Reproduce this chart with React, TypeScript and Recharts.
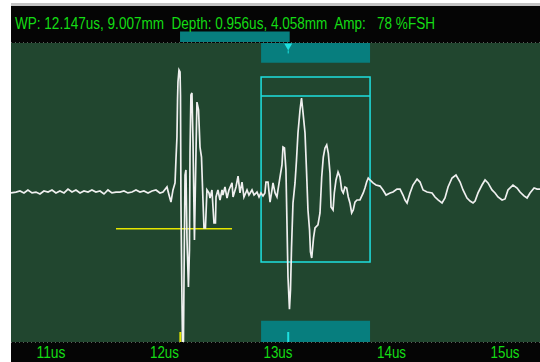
import React from 'react';
import { LineChart, Line, XAxis, YAxis, CartesianGrid, ReferenceArea, ReferenceLine, ReferenceDot } from 'recharts';

// time base in us, amplitude in %FSH (RF display, +-100)
const X_DOMAIN = [10.648, 15.308];
const Y_DOMAIN = [-100, 100];
const X_TICKS = [11, 12, 13, 14, 15];
const Y_TICKS = [-100, -50, 0, 50, 100];

const HEADER = 'WP: 12.147us, 9.007mm  Depth: 0.956us, 4.058mm  Amp:   78 %FSH';

// [time us, amplitude %]
const NOISE_LEFT = [
  [10.648, -0.3], [10.692, 0.3], [10.727, 1.0], [10.762, -0.3], [10.797, 1.7], [10.833, -0.3],
  [10.868, 0.3], [10.903, -1.0], [10.938, 1.0], [10.974, 0.3], [11.009, 1.7], [11.044, -0.3],
  [11.079, 1.0], [11.115, -0.3], [11.15, 2.3], [11.185, 0.3], [11.22, 1.7], [11.256, -0.3],
  [11.291, 1.0], [11.326, 0.3], [11.361, 1.7], [11.396, 0.3], [11.432, 1.0], [11.467, -1.0],
  [11.502, 1.7], [11.537, -0.3], [11.573, 0.3], [11.608, 0.3], [11.643, 1.0], [11.678, -0.3],
  [11.714, 0.3], [11.749, 1.7], [11.784, 0.3], [11.819, 1.0], [11.855, -0.3], [11.89, 1.0],
  [11.925, 1.7], [11.96, -0.3], [11.987, 0.3],
];

const MAIN_ECHO = [
  [12.022, 3.7], [12.04, -1.7], [12.057, -6.4], [12.075, 1.7], [12.093, 6.4], [12.101, 21.7],
  [12.11, 37.1], [12.115, 61.9], [12.119, 73.9], [12.128, 81.9], [12.137, 80.6], [12.141, 65.2],
  [12.145, -5.0], [12.154, -71.9], [12.159, -100], [12.167, -100], [12.172, -58.5], [12.181, 11.7],
  [12.189, 15.1], [12.198, -30.4], [12.211, -63.2], [12.22, -38.5], [12.225, 26.4], [12.233, 65.2],
  [12.242, 66.6], [12.251, 35.1], [12.264, -31.8], [12.278, 28.4], [12.286, 60.5], [12.3, 55.2],
  [12.313, 30.4], [12.326, 23.7], [12.339, -5.0], [12.348, -23.7], [12.361, -23.7], [12.374, 1.7],
  [12.392, -0.3], [12.401, -3.7], [12.418, 1.7], [12.436, -20.4], [12.449, -20.4], [12.454, -3.0],
  [12.471, 1.7], [12.489, -5.0], [12.507, 1.7], [12.515, -1.7], [12.533, 3.7], [12.551, -3.7],
  [12.568, 1.7], [12.595, 6.4], [12.604, -3.0], [12.63, 3.7], [12.648, 11.0], [12.665, -0.3],
  [12.683, 7.0], [12.7, -3.0], [12.727, 1.7], [12.744, -1.7], [12.771, 1.7], [12.789, -1.7],
  [12.815, 0.3], [12.833, -3.0], [12.85, -0.3], [12.868, -2.3], [12.885, -0.3], [12.894, 7.0],
  [12.912, 7.0], [12.93, -6.4], [12.947, 1.7], [12.956, 6.4], [12.974, -0.3], [12.991, -3.0],
];

const GATE_ECHO = [
  [13.0, 1.7], [13.018, 10.4], [13.035, 18.4], [13.044, 30.4], [13.057, 29.8], [13.07, 15.1],
  [13.079, -20.4], [13.088, -56.5], [13.101, -78.0], [13.11, -65.2], [13.119, -37.1], [13.132, -7.0],
  [13.15, 6.4], [13.163, 21.7], [13.176, 39.8], [13.194, 55.2], [13.207, 63.2], [13.22, 53.8],
  [13.238, 39.8], [13.251, 15.1], [13.264, -11.7], [13.278, -25.1], [13.286, -39.8], [13.297, -43.8],
  [13.313, -30.4], [13.326, -23.7], [13.352, -21.7], [13.37, -13.7], [13.385, 10.4], [13.399, 23.7],
  [13.414, 29.8], [13.429, 31.8], [13.443, 26.4], [13.458, 13.0], [13.467, -9.7], [13.485, -11.7],
  [13.496, -0.3], [13.511, 8.4], [13.529, 13.7], [13.546, 10.4], [13.561, 1.7], [13.575, -0.3],
  [13.59, 3.7], [13.605, 3.0], [13.619, -3.0], [13.634, -7.0], [13.649, -13.7], [13.663, -11.7],
  [13.678, -6.4], [13.696, -5.0], [13.722, -5.0], [13.751, -0.3], [13.766, 3.0], [13.781, 7.0],
  [13.795, 9.7], [13.81, 8.4], [13.837, 6.4], [13.863, 5.0], [13.899, 4.3], [13.925, 1.7],
  [13.952, -1.7], [13.987, -0.3],
];

const TAIL = [
  [14.013, 0.3], [14.048, 2.3], [14.075, 2.3], [14.101, -1.7], [14.119, -5.0], [14.137, -7.0],
  [14.163, -0.3], [14.189, 5.0], [14.225, 9.0], [14.251, 7.0], [14.278, 1.7], [14.313, 0.3],
  [14.357, -0.3], [14.383, -3.0], [14.41, -5.0], [14.445, -7.0], [14.471, -3.7], [14.498, 3.7],
  [14.533, 9.7], [14.568, 11.7], [14.604, 7.0], [14.63, 1.7], [14.665, -3.7], [14.692, -5.7],
  [14.718, -7.0], [14.736, -5.7], [14.762, -0.3], [14.797, 5.0], [14.824, 8.4], [14.85, 6.4],
  [14.885, 1.7], [14.912, -0.3], [14.938, -3.0], [14.974, -5.0], [15.0, -4.3], [15.026, 1.7],
  [15.07, 5.0], [15.106, 3.0], [15.132, 0.3], [15.167, -2.3], [15.194, -3.7], [15.22, -0.3],
  [15.256, 3.0], [15.282, 2.3], [15.308, 2.3],
];

// gate and cursor settings
const GATE = { start: 12.851, end: 13.811, top: 77.3, level: 64.5, bottom: -46.5 };
const GATE_BARS = { upper: [86.8, 100], lower: [-100, -85.8] };
const DEPTH_BAR = { start: 12.137, end: 13.103, y1: 100.7, y2: 107.7 };
const YELLOW_GATE = { start: 11.573, end: 12.595, level: -24.2 };
const WP_MARK = 12.14;
const ECHO_MARK = 13.09;

const trace = [...NOISE_LEFT, ...MAIN_ECHO, ...GATE_ECHO, ...TAIL].map(([t, a]) => ({ t, a }));

const FONT = "'Liberation Sans', Arial, sans-serif";
const GREEN_TEXT = '#14dc14';
const PLOT_BG = '#21462f';
const TEAL = '#077e7e';
const CYAN = '#1ee0e0';

const Triangle = (props: any) => {
  const { cx, cy } = props;
  return (
    <g>
      <polygon points={`${cx - 4},${cy - 3} ${cx + 4},${cy - 3} ${cx},${cy + 4}`} fill={CYAN} />
      <line x1={cx} y1={cy + 4} x2={cx} y2={cy + 7} stroke={CYAN} strokeWidth={1} />
    </g>
  );
};

// narrow tick labels like the instrument font
const TimeTick = (props: any) => {
  const { x, y, payload } = props;
  return (
    <text x={x} y={y} dy="0.71em" textAnchor="middle" fill={GREEN_TEXT} fontSize={16} fontFamily={FONT} textLength={29} lengthAdjust="spacingAndGlyphs">
      {`${payload.value}us`}
    </text>
  );
};

export default function App() {
  return (
    <div style={{ position: 'absolute', left: 0, top: 0, width: 540, height: 362, background: '#ffffff', overflow: 'hidden' }}>
      <div style={{ position: 'absolute', left: 11, top: 3, width: 529, height: 3, background: '#c4c4c4' }} />
      <div style={{ position: 'absolute', left: 11, top: 6, width: 529, height: 356, background: '#050505' }}>
        <LineChart width={529} height={356} data={trace} margin={{ top: 37, right: 0, bottom: 0, left: 0 }}>
          <ReferenceArea x1={X_DOMAIN[0]} x2={X_DOMAIN[1]} y1={Y_DOMAIN[0]} y2={Y_DOMAIN[1]} fill={PLOT_BG} fillOpacity={1} stroke="none" />
          <ReferenceArea x1={GATE.start} x2={GATE.end} y1={GATE_BARS.upper[0]} y2={GATE_BARS.upper[1]} fill={TEAL} fillOpacity={1} stroke="none" />
          <ReferenceArea x1={GATE.start} x2={GATE.end} y1={GATE_BARS.lower[0]} y2={GATE_BARS.lower[1]} fill={TEAL} fillOpacity={1} stroke="none" />
          <ReferenceArea x1={DEPTH_BAR.start} x2={DEPTH_BAR.end} y1={DEPTH_BAR.y1} y2={DEPTH_BAR.y2} fill={TEAL} fillOpacity={1} stroke="none" ifOverflow="visible" />
          <CartesianGrid stroke="#b0bdb2" strokeDasharray="1 3" fill="none" />
          <XAxis
            type="number"
            dataKey="t"
            domain={X_DOMAIN}
            ticks={X_TICKS}
            allowDataOverflow
            height={20}
            axisLine={false}
            tickLine={false}
            tickSize={0}
            tickMargin={5}
            tick={<TimeTick />}
          />
          <YAxis hide type="number" domain={Y_DOMAIN} ticks={Y_TICKS} allowDataOverflow />
          <ReferenceArea x1={GATE.start} x2={GATE.end} y1={GATE.bottom} y2={GATE.top} fill="none" stroke={CYAN} strokeWidth={1.5} />
          <ReferenceLine segment={[{ x: GATE.start, y: GATE.level }, { x: GATE.end, y: GATE.level }]} stroke={CYAN} strokeWidth={1.5} />
          <ReferenceLine segment={[{ x: YELLOW_GATE.start, y: YELLOW_GATE.level }, { x: YELLOW_GATE.end, y: YELLOW_GATE.level }]} stroke="#e6e600" strokeWidth={1.5} />
          <ReferenceLine segment={[{ x: WP_MARK, y: -100 }, { x: WP_MARK, y: -93.3 }]} stroke="#e6e600" strokeWidth={2} />
          <ReferenceLine segment={[{ x: ECHO_MARK, y: -100 }, { x: ECHO_MARK, y: -93.3 }]} stroke={CYAN} strokeWidth={2} />
          <ReferenceDot x={ECHO_MARK} y={97.7} r={4} shape={<Triangle />} />
          <Line type="linear" dataKey="a" stroke="#efefef" strokeWidth={1.7} dot={false} isAnimationActive={false} />
        </LineChart>
        <svg width={529} height={37} style={{ position: 'absolute', left: 0, top: 0 }}>
          <text x={4} y={23.3} fill={GREEN_TEXT} fontSize={16} fontFamily={FONT} textLength={420} lengthAdjust="spacingAndGlyphs" style={{ whiteSpace: 'pre' }}>
            {HEADER}
          </text>
        </svg>
      </div>
    </div>
  );
}
